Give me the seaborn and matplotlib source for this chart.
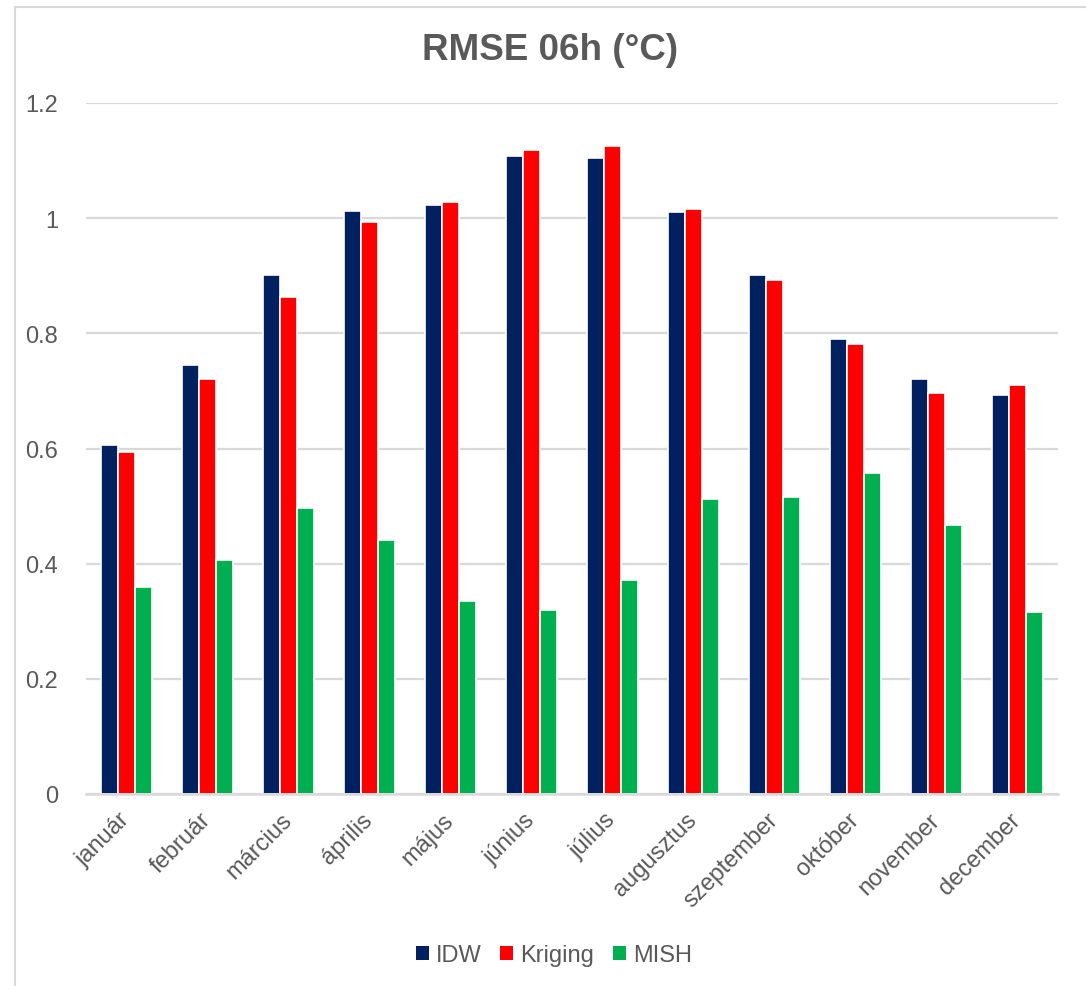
import matplotlib
matplotlib.use("Agg")
import matplotlib.pyplot as plt
import matplotlib.patches as mpatches
from matplotlib.lines import Line2D
import seaborn as sns
import pandas as pd

# Monthly RMSE at 06h for three interpolation methods
months = ["január", "február", "március", "április", "május", "június",
          "július", "augusztus", "szeptember", "október", "november", "december"]
idw = [0.606, 0.745, 0.901, 1.012, 1.023, 1.108, 1.104, 1.010, 0.901, 0.790, 0.720, 0.693]
kriging = [0.594, 0.720, 0.863, 0.993, 1.028, 1.118, 1.125, 1.016, 0.892, 0.781, 0.696, 0.710]
mish = [0.359, 0.406, 0.497, 0.441, 0.335, 0.319, 0.372, 0.512, 0.516, 0.557, 0.467, 0.316]
methods = ["IDW", "Kriging", "MISH"]
colors = ["#002060", "#FF0000", "#00B050"]
yticks = [0, 0.2, 0.4, 0.6, 0.8, 1, 1.2]
ytick_labels = ["0", "0.2", "0.4", "0.6", "0.8", "1", "1.2"]

df = pd.DataFrame({
    "month": months * 3,
    "method": [m for m in methods for _ in months],
    "rmse": idw + kriging + mish,
})

sns.set_theme(style="white")
plt.rcParams["font.family"] = ["Liberation Sans", "DejaVu Sans"]
text_color = "#595959"
grid_color = "#D9D9D9"

fig = plt.figure(figsize=(10.86, 9.87), dpi=100)
ax = fig.add_axes([86 / 1086, 1 - 795 / 987, 972 / 1086, (795 - 104) / 987])

sns.barplot(data=df, x="month", y="rmse", hue="method", order=months,
            hue_order=methods, palette=colors, width=0.64, gap=0,
            edgecolor="white", linewidth=1.2, saturation=1, ax=ax, legend=False)

ax.set_ylim(0, 1.2)
ax.set_xlim(-0.5, len(months) - 0.5)
ax.set_yticks(yticks)
ax.set_yticklabels(ytick_labels)
ax.set_axisbelow(True)
ax.yaxis.grid(True, color=grid_color, linewidth=1.6)
ax.xaxis.grid(False)
for side in ["left", "right", "top"]:
    ax.spines[side].set_visible(False)
ax.spines["bottom"].set_color(grid_color)
ax.spines["bottom"].set_linewidth(1.8)
ax.set_xlabel("")
ax.set_ylabel("")
ax.tick_params(axis="y", length=0, pad=20, labelsize=17, labelcolor=text_color)
ax.tick_params(axis="x", length=0, pad=16, labelsize=17, labelcolor=text_color)
for lbl in ax.get_xticklabels():
    lbl.set_rotation(45)
    lbl.set_ha("right")
    lbl.set_va("center")
    lbl.set_rotation_mode("anchor")

fig.text(550 / 1086, 1 - 50 / 987, "RMSE 06h (°C)", ha="center", va="center",
         fontsize=26.5, fontweight="bold", color=text_color)

handles = [mpatches.Patch(facecolor=c, edgecolor="none", label=m)
           for m, c in zip(methods, colors)]
leg = fig.legend(handles=handles, loc="center", bbox_to_anchor=(554 / 1086, 1 - 956 / 987),
                 ncol=3, frameon=False, fontsize=17, handlelength=0.55, handleheight=0.55,
                 handletextpad=0.3, columnspacing=0.8, labelcolor=text_color)

# outer chart frame
fig.add_artist(Line2D([15 / 1086, 15 / 1086], [0, 1 - 8 / 987],
                      transform=fig.transFigure, color=grid_color, linewidth=1.5))
fig.add_artist(Line2D([15 / 1086, 1], [1 - 8 / 987, 1 - 8 / 987],
                      transform=fig.transFigure, color=grid_color, linewidth=1.5))

fig.savefig("out.png", dpi=100, facecolor="white")
